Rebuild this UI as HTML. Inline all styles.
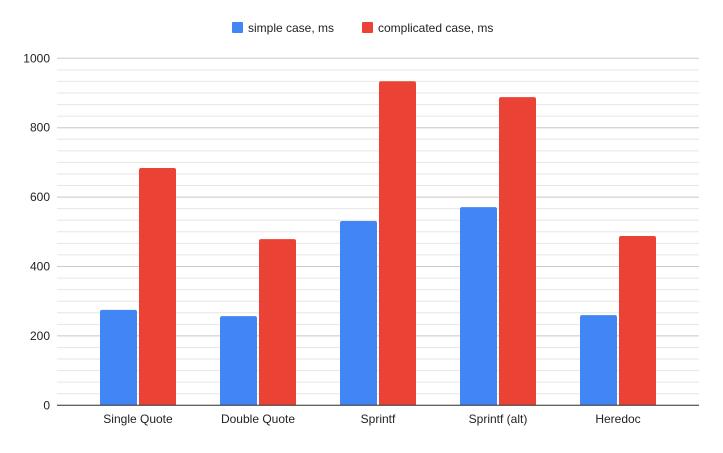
<!DOCTYPE html>
<html><head><meta charset="utf-8"><style>
body{margin:0;background:#fff;font-family:"Liberation Sans",Arial,sans-serif}
</style></head><body>
<svg id="c" width="723" height="448" xmlns="http://www.w3.org/2000/svg" font-family="Liberation Sans, Arial, sans-serif"></svg>
<script>
const categories=["Single Quote","Double Quote","Sprintf","Sprintf (alt)","Heredoc"];
const simpleVals=[275,257,531,571,260];
const complexVals=[684,479,934,888,488];
const yTicks=[0,200,400,600,800,1000];
const seriesNames=["simple case, ms","complicated case, ms"];
const colors=["#4285f4","#ea4335"];
const svg=document.getElementById('c');
const NS="http://www.w3.org/2000/svg";
const x0=57,x1=699,yB=405.3,yT=58.3,yMax=1000;
const y=v=>yB-(v/yMax)*(yB-yT);
const groupW=120,groupStart=78;
const cx=i=>groupStart+groupW*i+groupW/2;
function mk(t,a,parent){const e=document.createElementNS(NS,t);for(const k in a)e.setAttribute(k,a[k]);(parent||svg).appendChild(e);return e;}
// minor gridlines
for(let v=0;v<=yMax;v+=100/3){const l=mk('line',{x1:x0,x2:x1,y1:y(v),y2:y(v),stroke:'#e6e6e6','stroke-width':1});

}
yTicks.forEach(t=>{
 if(t>0){const l=mk('line',{x1:x0,x2:x1,y1:y(t),y2:y(t),stroke:'#cccccc','stroke-width':1});
 
 }
 const tx=mk('text',{x:50,y:y(t)+4,'text-anchor':'end','font-size':12,fill:'#222'});
 tx.textContent=t;
 
 
});
const bw=37,gap=2;
categories.forEach((c,i)=>{
 [simpleVals[i],complexVals[i]].forEach((v,s)=>{
  const bx=s===0?cx(i)-gap/2-bw:cx(i)+gap/2;
  const r=mk('path',{d:`M${bx},${yB} L${bx},${y(v)+2} Q${bx},${y(v)} ${bx+2},${y(v)} L${bx+bw-2},${y(v)} Q${bx+bw},${y(v)} ${bx+bw},${y(v)+2} L${bx+bw},${yB} Z`,fill:colors[s]});
  
  
 });
 const tl=mk('text',{x:cx(i),y:423,'text-anchor':'middle','font-size':12,fill:'#222'});
 tl.textContent=c;
 
 
});
const ax=mk('line',{x1:x0,x2:x1,y1:yB,y2:yB,stroke:'#333','stroke-width':1});


// legend
const legX=[232,362];
seriesNames.forEach((n,s)=>{
 const g=mk('g',{});
 
 
 mk('rect',{x:legX[s],y:22,width:11,height:11,rx:1,fill:colors[s]},g);
 const t=mk('text',{x:legX[s]+16,y:32,'font-size':12,fill:'#222'},g);
 t.textContent=n;
});
</script>
</body></html>
